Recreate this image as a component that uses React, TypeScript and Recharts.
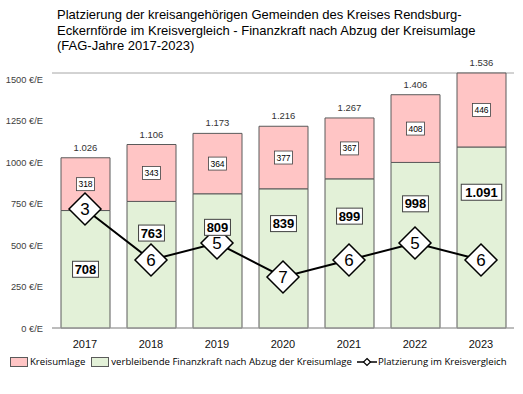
import React from "react";
import {
  Bar,
  CartesianGrid,
  ComposedChart,
  LabelList,
  Line,
  XAxis,
  YAxis,
} from "recharts";

// FAG-Jahre
const years = ["2017", "2018", "2019", "2020", "2021", "2022", "2023"];
// verbleibende Finanzkraft nach Abzug der Kreisumlage (€/E)
const remaining = [708, 763, 809, 839, 899, 998, 1091];
// Kreisumlage (€/E)
const levy = [318, 343, 364, 377, 367, 408, 446];
// Finanzkraft gesamt (€/E), as printed above the bars
const totals = [1026, 1106, 1173, 1216, 1267, 1406, 1536];
// Platzierung im Kreisvergleich
const ranks = [3, 6, 5, 7, 6, 5, 6];
const yTicks = [0, 250, 500, 750, 1000, 1250, 1500];

const titleLines = [
  "Platzierung der kreisangehörigen Gemeinden des Kreises Rendsburg-",
  "Eckernförde im Kreisvergleich - Finanzkraft nach Abzug der Kreisumlage",
  "(FAG-Jahre 2017-2023)",
];

const data = years.map((year, i) => ({
  year,
  remaining: remaining[i],
  levy: levy[i],
  total: totals[i],
  rank: ranks[i],
}));

const PINK = "#ffc5c5";
const GREEN = "#e3f1d8";
const BORDER = "#5a5a5a";
const FONT = "'Liberation Sans', Arial, sans-serif";

// German thousands separator
const fmt = (v: number) => String(v).replace(/\B(?=(\d{3})+(?!\d))/g, ".");

const YTick = (props: any) => {
  const { x, y, payload } = props;
  return (
    <text x={x} y={y + 3.5} textAnchor="end" fontSize={9.3} fontFamily={FONT} fill="#404040">
      {`${payload.value} €/E`}
    </text>
  );
};

const LevyLabel = (props: any) => {
  const { x, y, width, height, value } = props;
  const cx = x + width / 2;
  const cy = y + height / 2;
  return (
    <g>
      <rect x={cx - 9} y={cy - 6.5} width={18} height={13} fill="#fff" stroke="#404040" strokeWidth={0.8} />
      <text x={cx} y={cy + 3} textAnchor="middle" fontSize={8.5} fontFamily={FONT} fill="#000">
        {fmt(value)}
      </text>
    </g>
  );
};

const TotalLabel = (props: any) => {
  const { x, y, width, index } = props;
  const cx = x + width / 2;
  const text = fmt(totals[index]);
  return (
    <g>
      <rect x={cx - 16} y={y - 17} width={32} height={13} fill="#fff" />
      <text x={cx} y={y - 7} textAnchor="middle" fontSize={9.5} fontFamily={FONT} fill="#333">
        {text}
      </text>
    </g>
  );
};

const RemainingLabel = (props: any) => {
  const { x, y, width, height, value, index } = props;
  const cx = x + width / 2;
  // first label sits in the middle, the others are lifted clear of the rank line
  const cy = y + height * (index === 0 ? 0.5 : 0.25);
  const text = fmt(value);
  const w = text.length * 7.3 + 4;
  return (
    <g>
      <rect x={cx - w / 2} y={cy - 8} width={w} height={16} fill="#fff" stroke="#404040" strokeWidth={1} />
      <text x={cx} y={cy + 4.5} textAnchor="middle" fontSize={13} fontWeight="bold" fontFamily={FONT} fill="#000">
        {text}
      </text>
    </g>
  );
};

const RankDot = (props: any) => {
  const { cx, cy, payload } = props;
  const r = 16;
  return (
    <g key={payload.year}>
      <polygon
        points={`${cx},${cy - r} ${cx + r},${cy} ${cx},${cy + r} ${cx - r},${cy}`}
        fill="#fff"
        stroke="#000"
        strokeWidth={1.5}
      />
      <text x={cx} y={cy + 6} textAnchor="middle" fontSize={17} fontFamily={FONT} fill="#000">
        {payload.rank}
      </text>
    </g>
  );
};

const LegendBox = ({ color }: { color: string }) => (
  <span
    style={{
      display: "inline-block",
      width: 16,
      height: 8,
      background: color,
      border: `1px solid ${BORDER}`,
      marginRight: 2,
      verticalAlign: "middle",
    }}
  />
);

export default function App() {
  return (
    <div style={{ position: "absolute", left: 0, top: 0, width: 523, height: 394, background: "#fff" }}>
      <div
        style={{
          position: "absolute",
          left: 57,
          top: 7,
          fontFamily: FONT,
          fontSize: 13,
          lineHeight: "15.5px",
          color: "#000",
          whiteSpace: "nowrap",
        }}
      >
        {titleLines.map((t) => (
          <div key={t}>{t}</div>
        ))}
      </div>
      <ComposedChart
        width={523}
        height={394}
        data={data}
        margin={{ top: 73, right: 9, left: 0, bottom: 46 }}
      >
        <CartesianGrid vertical={false} stroke="#a6a6a6" strokeWidth={1} />
        <XAxis
          dataKey="year"
          axisLine={{ stroke: "#a6a6a6" }}
          tickLine={false}
          height={20}
          tick={{ fontSize: 11, fill: "#111", fontFamily: FONT }}
          tickMargin={6}
        />
        <YAxis
          yAxisId="eur"
          width={52}
          domain={[0, 1500]}
          ticks={yTicks}
          axisLine={false}
          tickLine={false}
          tick={YTick}
          tickMargin={3}
        />
        <YAxis yAxisId="rank" orientation="right" hide domain={[-5, 10]} reversed width={0} />
        <Bar
          yAxisId="eur"
          dataKey="remaining"
          stackId="a"
          fill={GREEN}
          stroke={BORDER}
          strokeWidth={1}
          barSize={49}
          isAnimationActive={false}
        >
          <LabelList dataKey="remaining" content={RemainingLabel} />
        </Bar>
        <Bar
          yAxisId="eur"
          dataKey="levy"
          stackId="a"
          fill={PINK}
          stroke={BORDER}
          strokeWidth={1}
          barSize={49}
          isAnimationActive={false}
        >
          <LabelList dataKey="levy" content={LevyLabel} />
          <LabelList dataKey="total" content={TotalLabel} />
        </Bar>
        <Line
          yAxisId="rank"
          dataKey="rank"
          stroke="#000"
          strokeWidth={2}
          dot={RankDot}
          activeDot={false}
          isAnimationActive={false}
        />
      </ComposedChart>
      <div
        style={{
          position: "absolute",
          left: 10,
          top: 355,
          fontFamily: "'Open Sans', sans-serif",
          fontSize: 9.6,
          color: "#000",
          whiteSpace: "nowrap",
          display: "flex",
          alignItems: "center",
        }}
      >
        <LegendBox color={PINK} />
        <span style={{ marginRight: 6 }}>Kreisumlage</span>
        <LegendBox color={GREEN} />
        <span style={{ marginRight: 5 }}>verbleibende Finanzkraft nach Abzug der Kreisumlage</span>
        <svg width={20} height={10} style={{ marginRight: 1 }}>
          <line x1={0} y1={5} x2={20} y2={5} stroke="#000" strokeWidth={1.5} />
          <polygon points="10,1.5 13.5,5 10,8.5 6.5,5" fill="#fff" stroke="#000" strokeWidth={1.2} />
        </svg>
        <span>Platzierung im Kreisvergleich</span>
      </div>
    </div>
  );
}
